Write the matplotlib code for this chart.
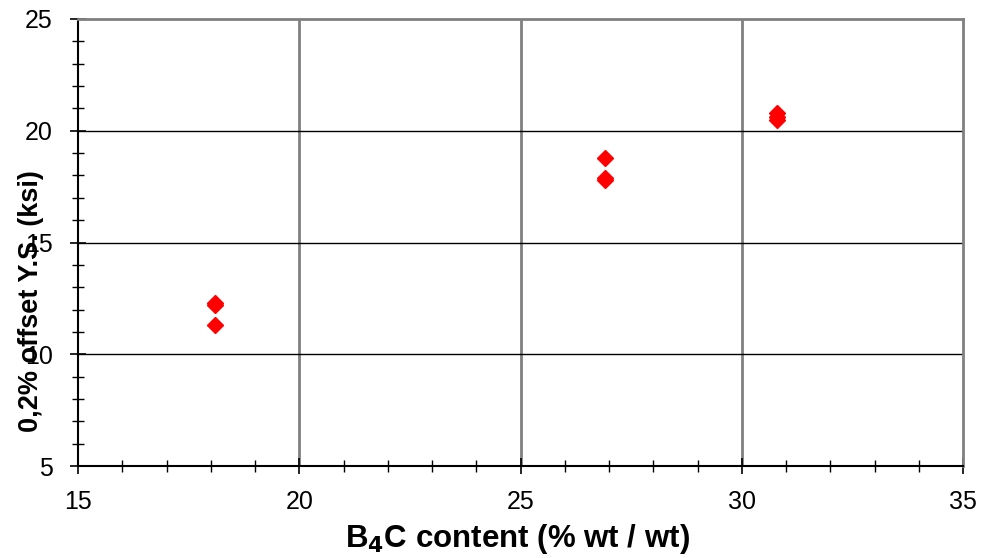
import matplotlib
matplotlib.use('Agg')
import matplotlib.pyplot as plt
from matplotlib.ticker import MultipleLocator

plt.rcParams['font.family'] = ['Liberation Sans', 'DejaVu Sans']

# B4C content vs yield strength
b4c = [18.1, 18.1, 18.1, 26.9, 26.9, 26.9, 30.8, 30.8, 30.8]
ys = [12.3, 12.2, 11.3, 18.8, 17.9, 17.8, 20.8, 20.6, 20.5]

fig = plt.figure(figsize=(10.01, 5.58), dpi=100)
ax = fig.add_axes([78/1001, 1 - 466/558, (963-78)/1001, (466-19)/558])

ax.plot(b4c, ys, linestyle='none', marker='D', markersize=8,
        color='#ff0000', markeredgecolor='#ff0000', zorder=5, clip_on=False)

ax.set_xlim(15, 35)
ax.set_ylim(5, 25)
ax.xaxis.set_major_locator(MultipleLocator(5))
ax.xaxis.set_minor_locator(MultipleLocator(1))
ax.yaxis.set_major_locator(MultipleLocator(5))
ax.yaxis.set_minor_locator(MultipleLocator(1))

# gridlines: vertical gray, horizontal black
for x in [20, 25, 30]:
    ax.axvline(x, color='#808080', lw=2, zorder=1)
for y in [10, 15, 20]:
    ax.axhline(y, color='black', lw=1, zorder=1)

ax.spines['top'].set_color('#808080')
ax.spines['top'].set_linewidth(2)
ax.spines['right'].set_color('#808080')
ax.spines['right'].set_linewidth(2)
ax.spines['left'].set_linewidth(1.5)
ax.spines['bottom'].set_linewidth(1.5)

ax.tick_params(which='major', direction='inout', length=12, width=1.2,
               labelsize=18)
ax.tick_params(which='minor', direction='inout', length=8, width=1)
ax.tick_params(axis='x', which='major', pad=11)
ax.tick_params(axis='y', which='major', pad=12)

ax.set_xlabel('B$_\\mathbf{4}$C content (% wt / wt)', fontsize=22.5, fontweight='bold')
ax.xaxis.set_label_coords(0.497, -0.125)
# label sits over the tick labels, as in the original
ax.set_ylabel('0,2% offset Y.S. (ksi)', fontsize=19.5, fontweight='bold')
ax.yaxis.set_label_coords(-0.038, 0.369)

fig.savefig('out.png', dpi=100)
